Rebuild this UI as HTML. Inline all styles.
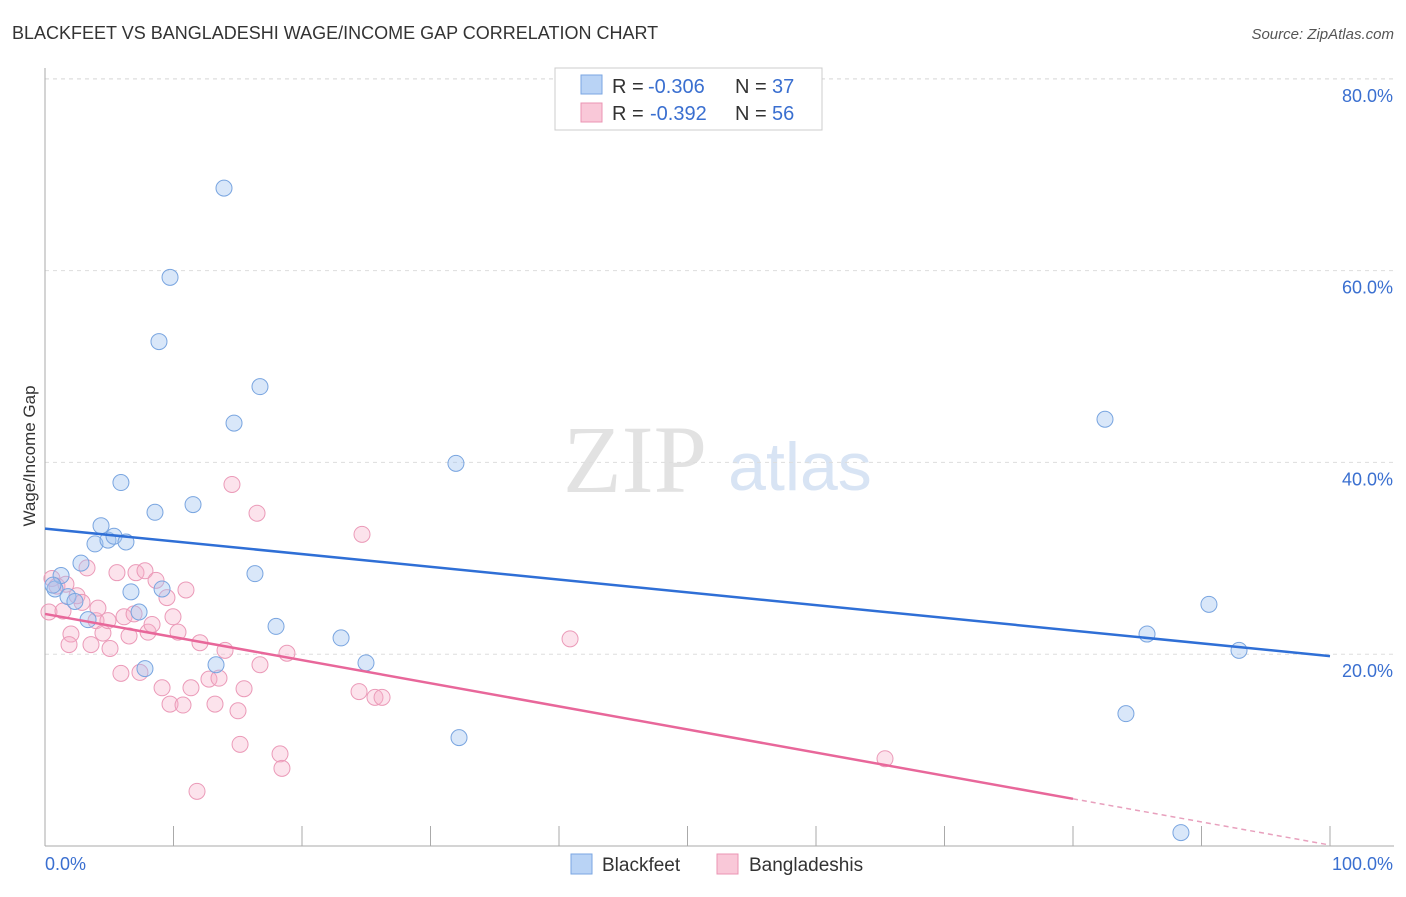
<!DOCTYPE html>
<html><head><meta charset="utf-8"><style>
body{margin:0;background:#fff;font-family:"Liberation Sans",sans-serif}
#wrap{position:relative;width:1406px;height:892px}
</style></head><body>
<div id="wrap">
<svg id="svg" width="1406" height="892" xmlns="http://www.w3.org/2000/svg">
<text x="12" y="39" font-size="18" fill="#333">BLACKFEET VS BANGLADESHI WAGE/INCOME GAP CORRELATION CHART</text>
<text x="1394" y="39" font-size="15" fill="#555" font-style="italic" text-anchor="end">Source: ZipAtlas.com</text>
<text x="35" y="456" font-size="17" fill="#333" text-anchor="middle" transform="rotate(-90 35 456)">Wage/Income Gap</text>
<text x="635" y="492" font-size="96" fill="#e2e2e2" font-family="Liberation Serif,serif" text-anchor="middle">ZIP</text>
<text x="800" y="490" font-size="68" fill="#d8e4f4" text-anchor="middle">atlas</text>
<g id="grid"></g><g id="axes"></g><g id="pts"></g><g id="lines"></g>
<g>
<rect x="555" y="68" width="267" height="62" fill="#fff" stroke="#ccc"/>
<rect x="581" y="75" width="21" height="19" fill="#b9d3f5" stroke="#7aa6e2"/>
<rect x="581" y="103" width="21" height="19" fill="#f9c8d8" stroke="#eb94b3"/>
<text y="93" font-size="20" fill="#333"><tspan x="612">R =</tspan><tspan x="648" fill="#3a6fd0">-0.306</tspan><tspan x="735">N =</tspan><tspan x="772" fill="#3a6fd0">37</tspan></text>
<text y="120" font-size="20" fill="#333"><tspan x="612">R =</tspan><tspan x="650" fill="#3a6fd0">-0.392</tspan><tspan x="735">N =</tspan><tspan x="772" fill="#3a6fd0">56</tspan></text>
</g>
<g>
<rect x="571" y="854" width="21" height="20" fill="#b9d3f5" stroke="#7aa6e2"/>
<text x="602" y="871" font-size="19" fill="#333">Blackfeet</text>
<rect x="717" y="854" width="21" height="20" fill="#f9c8d8" stroke="#eb94b3"/>
<text x="749" y="871" font-size="19" fill="#333">Bangladeshis</text>
</g>
</svg>
</div>
<script>
const yTicks=[20,40,60,80];
const yTickLabels=["20.0%","40.0%","60.0%","80.0%"];
const xTicks=[0,10,20,30,40,50,60,70,80,90,100];
const blackfeetX=[0.78,1.25,1.79,2.33,2.80,3.35,3.89,4.36,4.90,5.37,5.91,6.30,6.69,7.32,7.78,8.56,8.87,9.11,9.73,11.52,13.31,13.93,14.71,16.34,16.73,17.98,23.04,24.98,31.98,32.22,82.49,84.12,85.76,88.40,90.58,92.92,0.62];
const blackfeetY=[26.8,28.2,26.0,25.5,29.5,23.6,31.5,33.4,31.9,32.3,37.9,31.7,26.5,24.4,18.5,34.8,52.6,26.8,59.3,35.6,18.9,68.6,44.1,28.4,47.9,22.9,21.7,19.1,39.9,11.3,44.5,13.8,22.1,1.4,25.2,20.4,27.2];
const bangX=[0.31,0.54,0.93,1.40,1.63,2.02,1.87,2.49,2.88,3.27,3.58,3.97,4.12,4.51,4.90,5.06,5.60,5.91,6.15,6.54,6.93,7.08,7.39,7.78,8.02,8.33,8.64,9.11,9.49,9.73,9.96,10.35,10.74,10.97,11.36,11.83,12.06,12.76,13.23,13.54,14.01,14.55,15.02,15.18,15.49,16.50,16.73,18.29,18.44,18.83,24.44,24.67,25.68,26.23,40.86,65.37];
const bangY=[24.4,27.9,27.1,24.5,27.3,22.1,21.0,26.1,25.4,29.0,21.0,23.5,24.8,22.2,23.5,20.6,28.5,18.0,23.9,21.9,24.2,28.5,18.1,28.7,22.3,23.1,27.7,16.5,25.9,14.8,23.9,22.3,14.7,26.7,16.5,5.7,21.2,17.4,14.8,17.5,20.4,37.7,14.1,10.6,16.4,34.7,18.9,9.6,8.1,20.1,16.1,32.5,15.5,15.5,21.6,9.1];
const blueTrend=[33.1,19.8];
const pinkTrend=[24.2,0.1];
const pinkSolidEnd=80;

const NS="http://www.w3.org/2000/svg";
const X=v=>45+v*12.85, Y=v=>846-v*9.59;
function mk(tag,attrs,parent){const e=document.createElementNS(NS,tag);for(const k in attrs)e.setAttribute(k,attrs[k]);document.getElementById(parent).appendChild(e);return e;}
yTicks.forEach((t,i)=>{
 const l=mk('line',{x1:45,x2:1394,y1:Y(t),y2:Y(t),stroke:'#ddd','stroke-dasharray':'4,4'},'grid');
 
 
 const tx=mk('text',{x:1393,y:Y(t)+23,'font-size':18,fill:'#3a6fd0','text-anchor':'end'},'grid');
 tx.textContent=yTickLabels[i];
 
 
});
const topGrid=mk('line',{x1:45,x2:1394,y1:79,y2:79,stroke:'#ddd','stroke-dasharray':'4,4'},'grid');


const ya=mk('line',{x1:45,x2:45,y1:68,y2:846,stroke:'#aaa'},'axes');


const xa=mk('line',{x1:45,x2:1394,y1:846,y2:846,stroke:'#aaa'},'axes');


xTicks.forEach(t=>{
 const l=mk('line',{x1:X(t),x2:X(t),y1:826,y2:846,stroke:'#aaa'},'axes');
 
 
});
const xl0=mk('text',{x:45,y:870,'font-size':18,fill:'#3a6fd0'},'axes');xl0.textContent='0.0%';


const xl1=mk('text',{x:1393,y:870,'font-size':18,fill:'#3a6fd0','text-anchor':'end'},'axes');xl1.textContent='100.0%';


bangX.forEach((v,i)=>{
 const c=mk('circle',{cx:X(v),cy:Y(bangY[i]),r:8,fill:'rgba(246,176,200,0.35)',stroke:'#eb9ab8','stroke-width':1},'pts');
 
 
});
blackfeetX.forEach((v,i)=>{
 const c=mk('circle',{cx:X(v),cy:Y(blackfeetY[i]),r:8,fill:'rgba(160,196,240,0.4)',stroke:'#79a5e0','stroke-width':1},'pts');
 
 
});
const bl=mk('line',{x1:X(0),y1:Y(blueTrend[0]),x2:X(100),y2:Y(blueTrend[1]),stroke:'#2f6fd6','stroke-width':2.5},'lines');


const pe=pinkTrend[0]+(pinkTrend[1]-pinkTrend[0])*pinkSolidEnd/100;
const pl=mk('line',{x1:X(0),y1:Y(pinkTrend[0]),x2:X(pinkSolidEnd),y2:Y(pe),stroke:'#e8679a','stroke-width':2.5},'lines');


const pd=mk('line',{x1:X(pinkSolidEnd),y1:Y(pe),x2:X(100),y2:Y(pinkTrend[1]),stroke:'#e8a0bd','stroke-width':1.5,'stroke-dasharray':'5,4'},'lines');


</script>
</body></html>
